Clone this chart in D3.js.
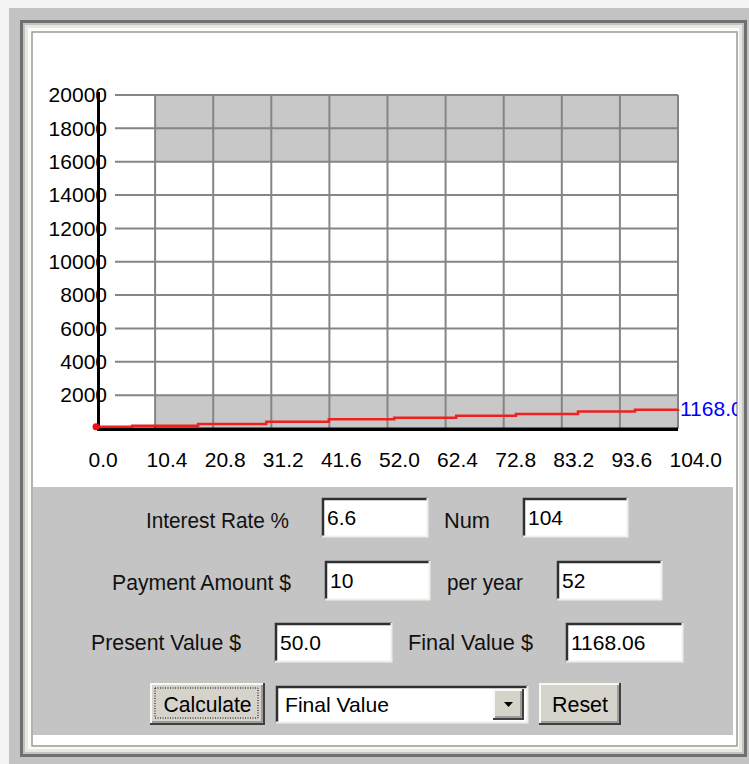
<!DOCTYPE html>
<html>
<head>
<meta charset="utf-8">
<script src="https://cdn.jsdelivr.net/npm/d3@7"></script>
<style>
  body { margin: 0; background: #f4f4f4; }
  svg text { font-family: "Liberation Sans", Arial, sans-serif; }
</style>
</head>
<body>
<svg id="chart" width="749" height="764"></svg>
<script>
// values
const xTicks = [0, 10.4, 20.8, 31.2, 41.6, 52.0, 62.4, 72.8, 83.2, 93.6, 104.0];
const yTicks = [2000, 4000, 6000, 8000, 10000, 12000, 14000, 16000, 18000, 20000];
const periods = [0, 6.3, 18.1, 30.3, 41.5, 53.2, 64.3, 75.0, 86.1, 96.3, 104];
const balance = [100, 170, 270, 410, 550, 650, 770, 870, 1020, 1130, 1168];
const shadedBands = [[0, 2000], [16000, 20000]];
const finalLabel = "1168.06";

// form contents
const fieldLabels = ["Interest Rate %", "Num", "Payment Amount $", "per year", "Present Value $", "Final Value $"];
const fieldValues = ["6.6", "104", "10", "52", "50.0", "1168.06"];
const buttonLabels = ["Calculate", "Reset"];
const dropdownText = "Final Value";

const svg = d3.select("#chart");

// ---- window frame ----
svg.append("rect").attr("x", 9).attr("y", 8).attr("width", 760).attr("height", 760).attr("fill", "#c3c3c3");
svg.append("rect").attr("x", 21.5).attr("y", 21.5).attr("width", 724).attr("height", 734)
  .attr("fill", "none").attr("stroke", "#707070").attr("stroke-width", 3);
svg.append("rect").attr("x", 26.5).attr("y", 26.5).attr("width", 714).attr("height", 724)
  .attr("fill", "#fbfbf8").attr("stroke", "#e8e8e0").attr("stroke-width", 3);
svg.append("rect").attr("x", 32).attr("y", 32).attr("width", 705).attr("height", 714)
  .attr("fill", "#fff").attr("stroke", "#9a9a9a").attr("stroke-width", 1.5);

// ---- chart ----
const x = d3.scaleLinear().domain([0, 104]).range([97, 678]);
const y = d3.scaleLinear().domain([0, 20000]).range([428.5, 95]);

const plot = svg.append("g");

plot.selectAll(".band")
  .data(shadedBands)
  .join("rect")
  .attr("class", "band")
  .attr("x", x(xTicks[1]))
  .attr("width", x(104) - x(xTicks[1]))
  .attr("y", d => y(d[1]))
  .attr("height", d => y(d[0]) - y(d[1]))
  .attr("fill", "#c8c8c8");

plot.selectAll(".hgrid")
  .data(yTicks)
  .join("line")
  .attr("class", "hgrid")
  .attr("x1", 115).attr("x2", x(104))
  .attr("y1", d => y(d)).attr("y2", d => y(d))
  .attr("stroke", "#858585").attr("stroke-width", 2);

plot.selectAll(".vgrid")
  .data(xTicks.slice(1))
  .join("line")
  .attr("class", "vgrid")
  .attr("x1", d => x(d)).attr("x2", d => x(d))
  .attr("y1", y(20000)).attr("y2", y(0))
  .attr("stroke", "#858585").attr("stroke-width", 2);

// axis labels
const xAxis = g => g
  .attr("transform", `translate(0,${y(0)})`)
  .call(d3.axisBottom(x).tickValues(xTicks).tickSize(0).tickFormat(d3.format(".1f")))
  .call(g => g.select(".domain").remove())
  .call(g => g.selectAll("text")
    .attr("y", 31).attr("dy", "0.35em").attr("dx", -9)
    .attr("text-anchor", "start")
    .attr("fill", "#000").style("font-size", "21px"));

const yAxis = g => g
  .attr("transform", `translate(${x(0)},0)`)
  .call(d3.axisLeft(y).tickValues(yTicks).tickSize(0).tickFormat(d3.format("d")))
  .call(g => g.select(".domain").remove())
  .call(g => g.selectAll("text")
    .attr("x", 10).attr("text-anchor", "end")
    .attr("fill", "#000").style("font-size", "21px"));

plot.append("g").call(xAxis).attr("font-family", null);
plot.append("g").call(yAxis).attr("font-family", null);

// axis lines
plot.append("line").attr("x1", x(0) + 1.5).attr("x2", x(0) + 1.5).attr("y1", 92).attr("y2", y(0) + 2.5)
  .attr("stroke", "#000").attr("stroke-width", 3);
plot.append("line").attr("x1", x(0)).attr("x2", x(104)).attr("y1", y(0) + 0.7).attr("y2", y(0) + 0.7)
  .attr("stroke", "#000").attr("stroke-width", 3.5);

// series
const pts = periods.map((p, i) => [p, balance[i]]);
const line = d3.line().x(d => x(d[0])).y(d => y(d[1])).curve(d3.curveStepAfter);
plot.append("path").datum(pts)
  .attr("d", line)
  .attr("fill", "none").attr("stroke", "#f02020").attr("stroke-width", 2.5);
plot.append("circle").attr("cx", x(periods[0]) - 1).attr("cy", y(balance[0]))
  .attr("r", 3.5).attr("fill", "#f01010");

// final value label, cut at the panel edge as in the original window
svg.append("clipPath").attr("id", "lblclip")
  .append("rect").attr("x", 0).attr("y", 0).attr("width", 737).attr("height", 764);
plot.append("text")
  .attr("clip-path", "url(#lblclip)")
  .attr("x", x(104) + 2).attr("y", y(balance[balance.length - 1]))
  .attr("dy", "0.35em")
  .attr("fill", "#0000ff").style("font-size", "21px")
  .text(finalLabel);

// ---- control panel ----
svg.append("rect").attr("x", 33).attr("y", 487).attr("width", 700).attr("height", 248).attr("fill", "#c4c4c4");

const labelPos = [
  { x: 146, w: 143, y: 520 }, { x: 444, w: 46, y: 520 },
  { x: 112, w: 179, y: 582 }, { x: 447, w: 76, y: 582 },
  { x: 91, w: 150, y: 642 }, { x: 408, w: 125, y: 642 }
];
svg.selectAll(".flabel")
  .data(fieldLabels)
  .join("text")
  .attr("class", "flabel")
  .attr("x", (d, i) => labelPos[i].x)
  .attr("y", (d, i) => labelPos[i].y)
  .attr("dy", "0.35em")
  .attr("textLength", (d, i) => labelPos[i].w)
  .attr("lengthAdjust", "spacingAndGlyphs")
  .style("font-size", "22px")
  .attr("fill", "#111")
  .text(d => d);

const boxPos = [
  { x: 322, y: 498, w: 106, h: 39 }, { x: 523, y: 498, w: 105, h: 39 },
  { x: 325, y: 561, w: 105, h: 39 }, { x: 557, y: 561, w: 105, h: 39 },
  { x: 275, y: 623, w: 117, h: 39 }, { x: 566, y: 623, w: 117, h: 39 }
];

function sunken(g, b) {
  g.append("rect").attr("x", b.x).attr("y", b.y).attr("width", b.w).attr("height", b.h).attr("fill", "#fff");
  g.append("path").attr("d", `M${b.x + 1},${b.y + b.h} V${b.y + 1} H${b.x + b.w}`)
    .attr("fill", "none").attr("stroke", "#303030").attr("stroke-width", 2.5);
  g.append("path").attr("d", `M${b.x},${b.y + b.h - 0.5} H${b.x + b.w - 0.5} V${b.y}`)
    .attr("fill", "none").attr("stroke", "#efefe8").attr("stroke-width", 2);
}

function raised(g, b) {
  g.append("rect").attr("x", b.x).attr("y", b.y).attr("width", b.w).attr("height", b.h).attr("fill", "#d6d3cb");
  g.append("path").attr("d", `M${b.x + 1},${b.y + b.h} V${b.y + 1} H${b.x + b.w}`)
    .attr("fill", "none").attr("stroke", "#f8f8f4").attr("stroke-width", 2);
  g.append("path").attr("d", `M${b.x},${b.y + b.h - 1} H${b.x + b.w - 1} V${b.y}`)
    .attr("fill", "none").attr("stroke", "#404040").attr("stroke-width", 2);
  g.append("path").attr("d", `M${b.x + 2},${b.y + b.h - 3} H${b.x + b.w - 3} V${b.y + 2}`)
    .attr("fill", "none").attr("stroke", "#8a8a8a").attr("stroke-width", 1.5);
}

fieldValues.forEach((v, i) => {
  const g = svg.append("g");
  const b = boxPos[i];
  sunken(g, b);
  g.append("text").attr("x", b.x + 5).attr("y", b.y + b.h / 2).attr("dy", "0.35em")
    .style("font-size", "21px").attr("fill", "#000").text(v);
});

// buttons
const btnPos = [{ x: 150, y: 683, w: 115, h: 42 }, { x: 539, y: 683, w: 82, h: 42 }];
buttonLabels.forEach((t, i) => {
  const g = svg.append("g");
  const b = btnPos[i];
  raised(g, b);
  g.append("text").attr("x", b.x + b.w / 2).attr("y", b.y + b.h / 2).attr("dy", "0.35em")
    .attr("text-anchor", "middle")
    .attr("textLength", i === 0 ? 88 : 56).attr("lengthAdjust", "spacingAndGlyphs")
    .style("font-size", "22px").attr("fill", "#000").text(t);
  if (i === 0) {
    g.append("rect").attr("x", b.x + 5).attr("y", b.y + 5).attr("width", b.w - 12).attr("height", b.h - 12)
      .attr("fill", "none").attr("stroke", "#000").attr("stroke-width", 1).attr("stroke-dasharray", "1,1.5");
  }
});

// dropdown
const dd = svg.append("g");
const dbox = { x: 276, y: 686, w: 252, h: 37 };
sunken(dd, dbox);
dd.append("text").attr("x", dbox.x + 9).attr("y", dbox.y + dbox.h / 2).attr("dy", "0.35em")
  .attr("textLength", 104).attr("lengthAdjust", "spacingAndGlyphs")
  .style("font-size", "21px").attr("fill", "#000").text(dropdownText);
const arrowBtn = { x: 493, y: 689, w: 31, h: 31 };
raised(dd, arrowBtn);
dd.append("path")
  .attr("d", `M${arrowBtn.x + 11},${arrowBtn.y + 13} h9 l-4.5,5 z`)
  .attr("fill", "#000");
</script>
</body>
</html>
